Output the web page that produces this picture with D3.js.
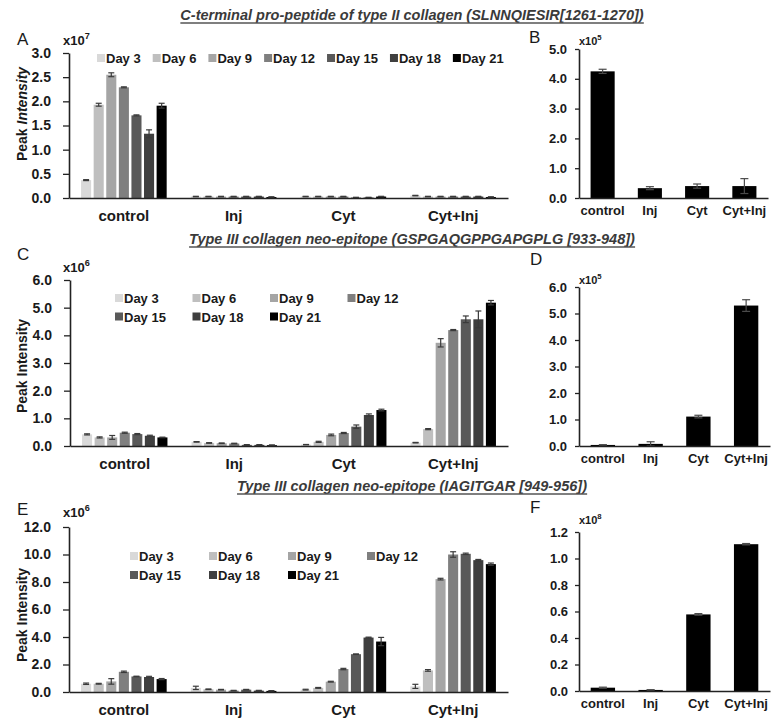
<!DOCTYPE html>
<html>
<head>
<meta charset="utf-8">
<script src="https://cdn.jsdelivr.net/npm/d3@7"></script>
<style>
  body { margin: 0; background: #fff; }
  text { font-family: Arial, "Liberation Sans", sans-serif; }
</style>
</head>
<body>
<div id="chart"></div>
<script>
// ---- data ----
const days = ["Day 3", "Day 6", "Day 9", "Day 12", "Day 15", "Day 18", "Day 21"];
const groups = ["control", "Inj", "Cyt", "Cyt+Inj"];
const dayColors = ["#d9d9d9", "#bfbfbf", "#a5a5a5", "#7f7f7f", "#595959", "#3f3f3f", "#000000"];

// panel A, x10^7
const aValues = [
  [0.37, 1.93, 2.55, 2.29, 1.71, 1.33, 1.91],
  [0.03, 0.03, 0.03, 0.03, 0.03, 0.03, 0.02],
  [0.03, 0.03, 0.03, 0.03, 0.01, 0.01, 0.03],
  [0.05, 0.03, 0.03, 0.03, 0.03, 0.03, 0.02]
];
const aErrors = [
  [0.01, 0.03, 0.04, 0.01, 0.01, 0.08, 0.05],
  [0.005, 0.005, 0.005, 0.005, 0.005, 0.005, 0.005],
  [0.005, 0.005, 0.005, 0.005, 0.005, 0.005, 0.005],
  [0.005, 0.005, 0.005, 0.005, 0.005, 0.005, 0.005]
];
// panel B, x10^5
const bValues = [4.25, 0.33, 0.40, 0.40];
const bErrors = [0.07, 0.05, 0.07, 0.25];

// panel C, x10^6
const cValues = [
  [0.42, 0.31, 0.31, 0.48, 0.43, 0.37, 0.31],
  [0.15, 0.11, 0.10, 0.09, 0.04, 0.04, 0.03],
  [0.05, 0.15, 0.40, 0.47, 0.70, 1.12, 1.30],
  [0.12, 0.61, 3.73, 4.19, 4.58, 4.58, 5.18]
];
const cErrors = [
  [0.02, 0.02, 0.07, 0.02, 0.02, 0.02, 0.01],
  [0.01, 0.01, 0.01, 0.01, 0.01, 0.01, 0.01],
  [0.005, 0.02, 0.03, 0.02, 0.06, 0.04, 0.03],
  [0.01, 0.02, 0.15, 0.02, 0.12, 0.30, 0.08]
];
// panel D, x10^5
const dValues = [0.04, 0.08, 1.11, 5.30];
const dErrors = [0.01, 0.08, 0.05, 0.22];

// panel E, x10^6
const eValues = [
  [0.60, 0.60, 0.77, 1.47, 1.13, 1.09, 0.94],
  [0.30, 0.20, 0.17, 0.10, 0.17, 0.10, 0.08],
  [0.17, 0.30, 0.75, 1.67, 2.75, 3.96, 3.67],
  [0.41, 1.57, 8.21, 10.0, 10.05, 9.59, 9.30]
];
const eErrors = [
  [0.05, 0.03, 0.20, 0.05, 0.02, 0.05, 0.04],
  [0.12, 0.02, 0.02, 0.02, 0.02, 0.02, 0.02],
  [0.03, 0.03, 0.03, 0.05, 0.02, 0.03, 0.30],
  [0.15, 0.06, 0.06, 0.20, 0.05, 0.05, 0.08]
];
// panel F, x10^8
const fValues = [0.025, 0.008, 0.578, 1.108];
const fErrors = [0.004, 0.002, 0.006, 0.005];

const titles = [
  "C-terminal pro-peptide of type II collagen (SLNNQIESIR[1261-1270])",
  "Type III collagen neo-epitope (GSPGAQGPPGAPGPLG [933-948])",
  "Type III collagen neo-epitope (IAGITGAR [949-956])"
];

// ---- drawing ----
const svg = d3.select("#chart").append("svg")
  .attr("width", 774).attr("height", 721);
svg.append("rect").attr("width", 774).attr("height", 721).attr("fill", "#fff");

const ink = "#1a1a1a";
const fmt = d3.format(".1f");

function yAxis(y, ticks, o) {
  svg.append("g")
    .attr("transform", `translate(${o.x0},0)`)
    .call(d3.axisLeft(y).tickValues(ticks).tickFormat(fmt)
      .tickSize(o.tick).tickSizeOuter(0).tickPadding(o.pad))
    .call(g => {
      g.select(".domain").attr("stroke", "#222").attr("stroke-width", 1.6);
      g.selectAll(".tick line").attr("stroke", "#222").attr("stroke-width", 1.3);
      g.selectAll("text").attr("font-size", o.fs).attr("font-weight", "bold")
        .attr("fill", ink).attr("font-family", "Arial, 'Liberation Sans', sans-serif");
    });
}

function xAxis(x, o) {
  svg.append("g")
    .attr("transform", `translate(0,${o.y0})`)
    .call(d3.axisBottom(x).tickSize(0).tickPadding(o.xpad))
    .call(g => {
      g.select(".domain").attr("stroke", "#222").attr("stroke-width", 1.6);
      g.selectAll("text").attr("font-size", o.xfs).attr("font-weight", "bold")
        .attr("fill", ink).attr("font-family", "Arial, 'Liberation Sans', sans-serif");
    });
}

function errorBars(sel, cap) {
  sel.append("line")
    .attr("x1", d => d.cx).attr("x2", d => d.cx)
    .attr("y1", d => d.lo).attr("y2", d => d.hi);
  sel.append("line")
    .attr("x1", d => d.cx - cap / 2).attr("x2", d => d.cx + cap / 2)
    .attr("y1", d => d.hi).attr("y2", d => d.hi);
  sel.append("line")
    .attr("x1", d => d.cx - cap / 2).attr("x2", d => d.cx + cap / 2)
    .attr("y1", d => d.lo).attr("y2", d => d.lo);
}

function scaleLabel(x, y, exp, fs) {
  const t = svg.append("text").attr("x", x).attr("y", y)
    .attr("font-size", fs).attr("font-weight", "bold").attr("fill", ink).text("x10");
  t.append("tspan").attr("dy", -fs * 0.45).attr("font-size", fs * 0.7).text(exp);
}

function panelLetter(x, y, s) {
  svg.append("text").attr("x", x).attr("y", y).attr("font-size", 17)
    .attr("fill", ink).text(s);
}

function groupedPanel(values, errors, o) {
  const y = d3.scaleLinear().domain([0, o.max]).range([o.y0, o.y1]);
  const x = d3.scaleBand().domain(groups).range([o.x0, o.x1])
    .paddingInner(0.22).paddingOuter(0.11);
  const xd = d3.scaleBand().domain(days).range([0, x.bandwidth()])
    .paddingInner(0.2).paddingOuter(0);

  const rows = groups.flatMap((g, i) => days.map((d, j) => ({
    g, d, j, v: values[i][j], e: errors[i][j]
  })));
  rows.forEach(r => {
    r.x = x(r.g) + xd(r.d);
    r.cx = r.x + xd.bandwidth() / 2;
    r.hi = y(r.v + r.e);
    r.lo = y(Math.max(0, r.v - r.e));
  });

  svg.append("g").selectAll("rect").data(rows).join("rect")
    .attr("x", d => d.x).attr("width", xd.bandwidth())
    .attr("y", d => y(d.v)).attr("height", d => y(0) - y(d.v))
    .attr("fill", d => dayColors[d.j]);

  svg.append("g").attr("stroke", "#3a3a3a").attr("stroke-width", 1.2)
    .selectAll("g").data(rows).join("g").call(errorBars, 6);

  yAxis(y, d3.range(0, o.max + o.step / 2, o.step), o);
  xAxis(x, o);

  // legend
  const leg = svg.append("g").attr("font-size", 13).attr("font-weight", "bold").attr("fill", ink);
  if (o.legendCols) {
    days.forEach((d, j) => {
      const lx = o.legX + (j % 4) * o.legStep;
      const ly = o.legY + Math.floor(j / 4) * o.legRow;
      leg.append("rect").attr("x", lx).attr("y", ly - 9).attr("width", 8).attr("height", 8)
        .attr("fill", dayColors[j]);
      leg.append("text").attr("x", lx + 9).attr("y", ly).text(d);
    });
  } else {
    let lx = o.legX;
    days.forEach((d, j) => {
      leg.append("rect").attr("x", lx).attr("y", o.legY - 9).attr("width", 8).attr("height", 8)
        .attr("fill", dayColors[j]);
      const t = leg.append("text").attr("x", lx + 9).attr("y", o.legY).text(d);
      lx += 9 + t.node().getComputedTextLength() + 12;
    });
  }
}

function simplePanel(values, errors, o) {
  const y = d3.scaleLinear().domain([0, o.max]).range([o.y0, o.y1]);
  const x = d3.scaleBand().domain(groups).range([o.x0, o.x1])
    .paddingInner(0.49).paddingOuter(0.245);
  const rows = groups.map((g, i) => ({ g, v: values[i], e: errors[i] }));
  rows.forEach(r => {
    r.cx = x(r.g) + x.bandwidth() / 2;
    r.hi = y(r.v + r.e);
    r.lo = y(Math.max(0, r.v - r.e));
  });
  svg.append("g").selectAll("rect").data(rows).join("rect")
    .attr("x", d => x(d.g)).attr("width", x.bandwidth())
    .attr("y", d => y(d.v)).attr("height", d => y(0) - y(d.v))
    .attr("fill", "#000");
  svg.append("g").attr("stroke", "#4a4a4a").attr("stroke-width", 1.2)
    .selectAll("g").data(rows).join("g").call(errorBars, 8);
  yAxis(y, d3.range(0, o.max + o.step / 2, o.step), o);
  xAxis(x, o);
}

function title(s, y) {
  const t = svg.append("text").attr("x", 412).attr("y", y).attr("text-anchor", "middle")
    .attr("font-size", 14.5).attr("font-style", "italic").attr("font-weight", "bold")
    .attr("fill", "#3a3a3a").text(s);
  const b = t.node().getBBox();
  svg.append("line").attr("x1", b.x).attr("x2", b.x + b.width)
    .attr("y1", y + 3).attr("y2", y + 3).attr("stroke", "#555").attr("stroke-width", 1.3);
}

function yLabel(cy, italicPart) {
  const t = svg.append("text")
    .attr("transform", `translate(27,${cy}) rotate(-90)`)
    .attr("text-anchor", "middle").attr("font-size", 14).attr("font-weight", "bold").attr("fill", ink);
  if (italicPart) {
    t.append("tspan").text("Peak ");
    t.append("tspan").attr("font-style", "italic").text("Intensity");
  } else {
    t.text("Peak Intensity");
  }
}

// row 1
title(titles[0], 20);
panelLetter(17, 45, "A");
scaleLabel(63, 45, "7", 13);
yLabel(114, true);
groupedPanel(aValues, aErrors, {
  x0: 69, x1: 508, y0: 198, y1: 53, max: 3, step: 0.5,
  tick: 6, pad: 12, fs: 14, xpad: 12, xfs: 15,
  legX: 97, legY: 63
});
panelLetter(529, 43, "B");
scaleLabel(579, 45, "5", 11);
simplePanel(bValues, bErrors, {
  x0: 579, x1: 768, y0: 198, y1: 49, max: 5, step: 1,
  tick: 4, pad: 8, fs: 13, xpad: 8, xfs: 13
});

// row 2
title(titles[1], 244);
panelLetter(17, 260, "C");
scaleLabel(63, 272, "6", 13);
yLabel(366, false);
groupedPanel(cValues, cErrors, {
  x0: 70, x1: 508, y0: 446, y1: 280, max: 6, step: 1,
  tick: 6, pad: 12, fs: 14, xpad: 12, xfs: 15,
  legendCols: true, legX: 115, legY: 303, legStep: 77.5, legRow: 18.5
});
panelLetter(530, 265, "D");
scaleLabel(579, 284, "5", 11);
simplePanel(dValues, dErrors, {
  x0: 579, x1: 770, y0: 446, y1: 287, max: 6, step: 1,
  tick: 4, pad: 8, fs: 13, xpad: 8, xfs: 13
});

// row 3
title(titles[2], 491);
panelLetter(17, 515, "E");
scaleLabel(63, 517, "6", 13);
yLabel(615, false);
groupedPanel(eValues, eErrors, {
  x0: 69, x1: 508, y0: 692, y1: 527, max: 12, step: 2,
  tick: 6, pad: 12, fs: 14, xpad: 12, xfs: 15,
  legendCols: true, legX: 130, legY: 561, legStep: 79, legRow: 19
});
panelLetter(530, 513, "F");
scaleLabel(579, 524, "8", 11);
simplePanel(fValues, fErrors, {
  x0: 579, x1: 770, y0: 691, y1: 532, max: 1.2, step: 0.2,
  tick: 4, pad: 7, fs: 13, xpad: 8, xfs: 13
});
</script>
</body>
</html>
